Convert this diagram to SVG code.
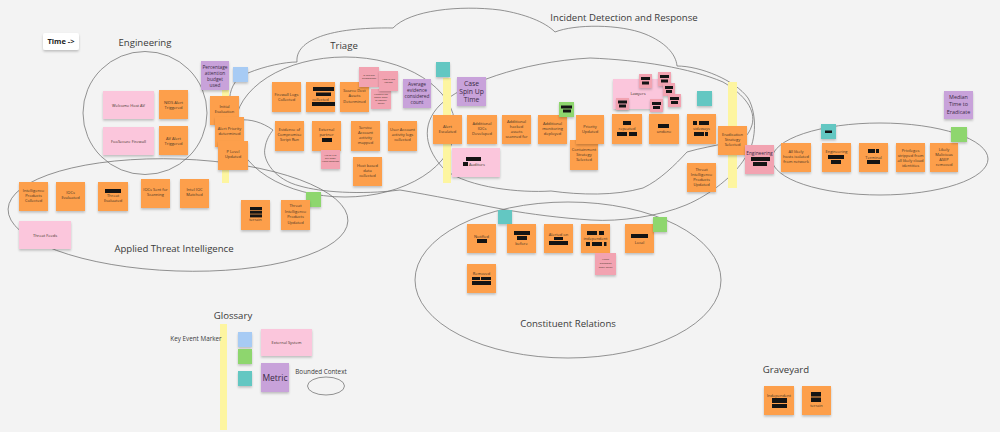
<svg xmlns="http://www.w3.org/2000/svg" width="1000" height="432" viewBox="0 0 1000 432">
<defs>
<filter id="sh" x="-20%" y="-20%" width="140%" height="150%"><feDropShadow dx="0" dy="1.6" stdDeviation="1" flood-color="#000" flood-opacity="0.22"/></filter>
<style>
.o{fill:#fd9f4c;filter:url(#sh)}
.pk{fill:#fbc6dc;filter:url(#sh)}
.pu{fill:#c8a2da;filter:url(#sh)}
.rd{fill:#f2a3b1;filter:url(#sh)}
.bl{fill:#a7cbf4;filter:url(#sh)}
.gr{fill:#8ed66e;filter:url(#sh)}
.tl{fill:#63c7c2;filter:url(#sh)}
.wh{fill:#ffffff;filter:url(#sh)}
.yb{fill:#fdf5a0}
.b{fill:#141414}
.t{font-family:"Open Sans","Liberation Sans",sans-serif;font-size:4px;fill:#3d3326;text-anchor:middle}
.ts{font-family:"Open Sans","Liberation Sans",sans-serif;font-size:2.5px;fill:#3d3326;text-anchor:middle}
.tp{font-family:"Open Sans","Liberation Sans",sans-serif;font-size:4.8px;fill:#3a2a45;text-anchor:middle}
.lb{font-family:"Open Sans","Liberation Sans",sans-serif;font-size:9.6px;fill:#3a3a3a;text-anchor:middle}
.lk{font-family:"Open Sans","Liberation Sans",sans-serif;font-size:6.3px;fill:#3a3a3a;text-anchor:middle}
.ln{fill:none;stroke:#707070;stroke-width:0.75}
</style>
</defs>
<rect x="0" y="0" width="1000" height="432" fill="#f3f3f3"/>

<g id="connectors">
<ellipse class="ln" cx="145" cy="113" rx="62" ry="61.5"/>
<ellipse class="ln" cx="178" cy="215" rx="170" ry="56" transform="rotate(2 178 215)"/>
<ellipse class="ln" cx="345" cy="127" rx="110" ry="70"/>
<path class="ln" d="M297,62 C295,40 330,27 393,28 C410,10 460,5 500,10 C525,14 545,22 555,32 C575,24 620,24 645,34 C665,42 676,54 677,66 C700,66 735,80 748,98 C758,115 756,145 745,158 C735,175 710,195 686,205 C660,216 620,222 591,220 C560,218 530,214 507,210 C470,203 430,195 400,190 C360,195 320,192 300,186 C275,180 262,160 265,148 C266,140 270,134 273,130 C262,122 250,119 240,120 C225,115 225,80 248,73 C265,66 285,62 297,62 Z"/>
<path class="ln" d="M551,191 C520,193 470,188 445,170 C425,150 420,125 440,105 C460,85 520,62 590,58 C640,60 690,68 723,82 C745,95 756,110 752,125 C748,138 740,142 730,142 C715,146 700,148 687,152 C675,165 660,180 643,188 C615,196 580,195 551,191 Z"/>
<ellipse class="ln" cx="880" cy="159" rx="108" ry="36"/>
<ellipse class="ln" cx="568" cy="280" rx="153" ry="78"/>
<ellipse class="ln" cx="326" cy="386" rx="18.5" ry="9"/>
</g>

<g id="markers">
<rect class="yb" x="222" y="88" width="7" height="95"/>
<rect class="yb" x="443" y="78" width="8" height="105"/>
<rect class="yb" x="728" y="82" width="9" height="106"/>
<rect class="yb" x="220" y="324" width="7" height="106"/>
</g>

<g id="labels">
<text class="lb" x="145" y="46">Engineering</text>
<text class="lb" x="344" y="49">Triage</text>
<text class="lb" x="624" y="21">Incident Detection and Response</text>
<text class="lb" x="174" y="252">Applied Threat Intelligence</text>
<text class="lb" x="568" y="327">Constituent Relations</text>
<text class="lb" x="233" y="319">Glossary</text>
<text class="lb" x="786" y="373">Graveyard</text>
<text class="lk" x="196" y="341">Key Event Marker</text>
<text class="lk" x="321" y="374">Bounded Context</text>
</g>

<g id="time"><rect class="wh" x="43" y="33" width="36" height="17" rx="2"/><text x="61" y="44" font-family="'Open Sans','Liberation Sans',sans-serif" font-size="7.5" font-weight="bold" fill="#222" text-anchor="middle">Time -&gt;</text></g>

<!-- Engineering -->
<g id="welcome-host-av"><rect class="pk" x="103" y="91" width="51" height="28"/><text class="t" x="128.5" y="106.5">Welcome Host AV</text></g>
<g id="foosecure-firewall"><rect class="pk" x="103" y="127" width="51" height="28"/><text class="t" x="128.5" y="142.5">FooSecure Firewall</text></g>
<g id="nids-alert"><rect class="o" x="159" y="90" width="29" height="29"/><text class="t"><tspan x="173.5" y="103.5">NIDS Alert</tspan><tspan x="173.5" y="108.7">Triggered</tspan></text></g>
<g id="av-alert"><rect class="o" x="159" y="126" width="29" height="29"/><text class="t"><tspan x="173.5" y="139.5">AV Alert</tspan><tspan x="173.5" y="144.7">Triggered</tspan></text></g>

<!-- Left metrics / triage start -->
<g id="pct-attention"><rect class="pu" x="201" y="61" width="28" height="29"/><text class="tp"><tspan x="215" y="68.5">Percentage</tspan><tspan x="215" y="74.5">attention</tspan><tspan x="215" y="80.5">budget</tspan><tspan x="215" y="86.5">used</tspan></text></g>
<g id="blue-note"><rect class="bl" x="233" y="67" width="15" height="15"/></g>
<g id="initial-eval"><rect class="o" x="210" y="96" width="29" height="29"/><text class="t"><tspan x="224.5" y="108">Initial</tspan><tspan x="224.5" y="113.2">Evaluation</tspan></text></g>
<g id="alert-priority"><rect class="o" x="215" y="117" width="29" height="30"/><text class="t"><tspan x="229.5" y="129.5">Alert Priority</tspan><tspan x="229.5" y="134.7">determined</tspan></text></g>
<g id="p-level"><rect class="o" x="218" y="141" width="30" height="29"/><text class="t"><tspan x="233" y="153">P Level</tspan><tspan x="233" y="158.2">Updated</tspan></text></g>

<!-- Triage -->
<g id="firewall-logs"><rect class="o" x="272" y="82" width="29" height="30"/><text class="t"><tspan x="286.5" y="96">Firewall Logs</tspan><tspan x="286.5" y="101.2">Collected</tspan></text></g>
<g id="redacted-collected"><rect class="o" x="306" y="82" width="29" height="30"/><rect class="b" x="313" y="87" width="21" height="4"/><rect class="b" x="316" y="92.5" width="15" height="3.5"/><text class="t" x="320.5" y="100.5">collected</text><rect class="b" x="312" y="102" width="23" height="4"/></g>
<g id="source-dest"><rect class="o" x="340" y="82" width="29" height="30"/><text class="t"><tspan x="354.5" y="92">Source Dest</tspan><tspan x="354.5" y="97.3">Assets</tspan><tspan x="354.5" y="102.6">Determined</tspan></text></g>
<g id="q-automated"><rect class="rd" x="359" y="67" width="20" height="20"/><text class="ts"><tspan x="369" y="76">Is this sub</tspan><tspan x="369" y="79">automated?</tspan></text></g>
<g id="q-where"><rect class="rd" x="371" y="89" width="20" height="20"/><text class="ts"><tspan x="381" y="95">Where's the</tspan><tspan x="381" y="98">single point</tspan><tspan x="381" y="101">of contact</tspan><tspan x="381" y="104">here?</tspan></text></g>
<g id="q-tested"><rect class="rd" x="379" y="71" width="19" height="20"/><text class="ts"><tspan x="388.5" y="80">How is this</tspan><tspan x="388.5" y="83">tested?</tspan></text></g>
<g id="avg-evidence"><rect class="pu" x="403" y="79" width="28" height="29"/><text class="tp"><tspan x="417" y="86">Average</tspan><tspan x="417" y="92">evidence</tspan><tspan x="417" y="98">considered</tspan><tspan x="417" y="104">count</tspan></text></g>
<g id="evidence-compromise"><rect class="o" x="275" y="121" width="29" height="30"/><text class="t"><tspan x="289.5" y="131">Evidence of</tspan><tspan x="289.5" y="136.2">Compromise</tspan><tspan x="289.5" y="141.4">Script Run</tspan></text></g>
<g id="external-partner"><rect class="o" x="312" y="121" width="29" height="30"/><text class="t"><tspan x="326.5" y="131">External</tspan><tspan x="326.5" y="136.2">partner</tspan></text><rect class="b" x="322" y="138" width="10" height="4"/></g>
<g id="q-asset-types"><rect class="rd" x="321" y="150" width="19" height="19"/><text class="ts"><tspan x="330.5" y="155.5">Are all 5 of</tspan><tspan x="330.5" y="158.7">our asset</tspan><tspan x="330.5" y="161.9">types covered?</tspan></text></g>
<g id="service-account"><rect class="o" x="351" y="121" width="29" height="30"/><text class="t"><tspan x="365.5" y="128.5">Service</tspan><tspan x="365.5" y="133.7">Account</tspan><tspan x="365.5" y="138.9">activity</tspan><tspan x="365.5" y="144.1">mapped</tspan></text></g>
<g id="user-account"><rect class="o" x="388" y="121" width="29" height="30"/><text class="t"><tspan x="402.5" y="131">User Account</tspan><tspan x="402.5" y="136.2">activity logs</tspan><tspan x="402.5" y="141.4">collected</tspan></text></g>
<g id="host-based"><rect class="o" x="353" y="157" width="29" height="29"/><text class="t"><tspan x="367.5" y="167">Host based</tspan><tspan x="367.5" y="172.2">data</tspan><tspan x="367.5" y="177.4">collected</tspan></text></g>

<!-- Applied Threat Intelligence -->
<g id="intel-products-collected"><rect class="o" x="19" y="182" width="29" height="29"/><text class="t"><tspan x="33.5" y="191.5">Intelligence</tspan><tspan x="33.5" y="196.7">Products</tspan><tspan x="33.5" y="201.9">Collected</tspan></text></g>
<g id="iocs-evaluated"><rect class="o" x="56" y="182" width="29" height="29"/><text class="t"><tspan x="70.5" y="194">IOCs</tspan><tspan x="70.5" y="199.2">Evaluated</tspan></text></g>
<g id="threat-evaluated"><rect class="o" x="98" y="182" width="30" height="29"/><rect class="b" x="105" y="189" width="16" height="4"/><text class="t"><tspan x="113" y="197">Threat</tspan><tspan x="113" y="202.2">Evaluated</tspan></text></g>
<g id="iocs-sent"><rect class="o" x="141" y="179" width="29" height="29"/><text class="t"><tspan x="155.5" y="191">IOCs Sent for</tspan><tspan x="155.5" y="196.2">Scanning</tspan></text></g>
<g id="intel-ioc-matched"><rect class="o" x="180" y="179" width="29" height="29"/><text class="t"><tspan x="194.5" y="191">Intel IOC</tspan><tspan x="194.5" y="196.2">Matched</tspan></text></g>
<g id="terrain-ati"><rect class="o" x="241" y="200" width="29" height="30"/><rect class="b" x="250" y="207" width="12" height="3"/><rect class="b" x="250" y="210.7" width="12" height="3"/><rect class="b" x="250" y="214.4" width="12" height="3"/><text class="t" x="255.5" y="221">terrain</text></g>
<g id="green-ati"><rect class="gr" x="306" y="192" width="15" height="15"/></g>
<g id="ti-products-updated-1"><rect class="o" x="281" y="200" width="29" height="30"/><text class="t"><tspan x="295.5" y="207">Threat</tspan><tspan x="295.5" y="212.5">Intelligence</tspan><tspan x="295.5" y="218">Products</tspan><tspan x="295.5" y="223.5">Updated</tspan></text></g>
<g id="threat-feeds"><rect class="pk" x="19" y="221" width="52" height="28"/><text class="t" x="45" y="236.5">Threat Feeds</text></g>

<!-- Incident Detection and Response -->
<g id="teal-idr"><rect class="tl" x="436" y="62" width="14" height="15"/></g>
<g id="case-spin-up"><rect class="pu" x="457" y="77" width="29" height="29"/><text class="tp" style="font-size:6.8px"><tspan x="471.5" y="85.5">Case</tspan><tspan x="471.5" y="93.5">Spin Up</tspan><tspan x="471.5" y="101.5">Time</tspan></text></g>
<g id="alert-escalated"><rect class="o" x="433" y="115" width="29" height="29"/><text class="t"><tspan x="447.5" y="127.5">Alert</tspan><tspan x="447.5" y="132.7">Escalated</tspan></text></g>
<g id="additional-iocs"><rect class="o" x="467" y="115" width="30" height="29"/><text class="t"><tspan x="482" y="125">Additional</tspan><tspan x="482" y="130.2">IOCs</tspan><tspan x="482" y="135.4">Developed</tspan></text></g>
<g id="additional-hacked"><rect class="o" x="502" y="115" width="29" height="29"/><text class="t"><tspan x="516.5" y="122.5">Additional</tspan><tspan x="516.5" y="127.7">hacked</tspan><tspan x="516.5" y="132.9">assets</tspan><tspan x="516.5" y="138.1">scanned for</tspan></text></g>
<g id="additional-monitoring"><rect class="o" x="538" y="115" width="29" height="29"/><text class="t"><tspan x="552.5" y="125">Additional</tspan><tspan x="552.5" y="130.2">monitoring</tspan><tspan x="552.5" y="135.4">deployed</tspan></text></g>
<g id="green-idr"><rect class="gr" x="559" y="102" width="15" height="15"/><rect class="b" x="561" y="105.5" width="11" height="3"/><rect class="b" x="563" y="109.5" width="8" height="3"/></g>
<g id="containment"><rect class="o" x="570" y="140" width="28" height="30"/><text class="t"><tspan x="584" y="151">Containment</tspan><tspan x="584" y="156.2">Strategy</tspan><tspan x="584" y="161.4">Selected</tspan></text></g>
<g id="priority-updated"><rect class="o" x="576" y="115" width="28" height="29"/><text class="t"><tspan x="590" y="127.5">Priority</tspan><tspan x="590" y="132.7">Updated</tspan></text></g>
<g id="auditors"><rect class="pk" x="452" y="148" width="48" height="29"/><rect class="b" x="466" y="157" width="15" height="4"/><rect class="b" x="463" y="162" width="5" height="4"/><text class="t" x="477" y="165.5">Auditors</text></g>
<g id="lawyers"><rect class="pk" x="613" y="79" width="50" height="30"/><text class="t" x="638" y="95">Lawyers</text></g>
<g id="lawyer-notes">
<rect class="rd" x="639" y="74" width="13" height="14"/><rect class="b" x="641" y="77" width="9" height="3"/><rect class="b" x="642" y="81.5" width="7" height="3"/>
<rect class="rd" x="658" y="72" width="13" height="14"/><rect class="b" x="660" y="75" width="9" height="3"/><rect class="b" x="661" y="79.5" width="7" height="3"/>
<rect class="rd" x="663" y="83" width="12" height="13"/><rect class="b" x="665" y="86" width="8" height="3"/><rect class="b" x="666" y="90" width="6" height="3"/>
<rect class="rd" x="668" y="94" width="13" height="13"/><rect class="b" x="670" y="97" width="9" height="3"/><rect class="b" x="671" y="101" width="7" height="3"/>
<rect class="rd" x="616" y="98" width="13" height="12"/><rect class="b" x="618" y="100.5" width="9" height="3"/><rect class="b" x="619" y="104.5" width="7" height="3"/>
<rect class="rd" x="650" y="99" width="13" height="13"/><rect class="b" x="652" y="102" width="9" height="3"/><rect class="b" x="653" y="106" width="7" height="3"/>
</g>
<g id="repeated"><rect class="o" x="612" y="114" width="30" height="30"/><rect class="b" x="623" y="121" width="8" height="4"/><text class="t" x="627" y="130">repeated</text><rect class="b" x="617" y="132" width="10" height="4"/><rect class="b" x="629" y="132" width="8" height="4"/></g>
<g id="undone"><rect class="o" x="649" y="114" width="30" height="30"/><rect class="b" x="658" y="124" width="11" height="4"/><text class="t" x="664" y="132.5">undone</text></g>
<g id="teal-idr-2"><rect class="tl" x="697" y="91" width="15" height="15"/></g>
<g id="sideways"><rect class="o" x="687" y="114" width="29" height="30"/><rect class="b" x="693" y="121" width="4" height="4"/><rect class="b" x="699" y="121" width="10" height="4"/><text class="t" x="701.5" y="129.5">sideways</text><rect class="b" x="694" y="132" width="10" height="4"/><rect class="b" x="705" y="132" width="3" height="4"/></g>
<g id="eradication-strategy"><rect class="o" x="718" y="126" width="29" height="29"/><text class="t"><tspan x="732.5" y="135.5">Eradication</tspan><tspan x="732.5" y="140.7">Strategy</tspan><tspan x="732.5" y="145.9">Selected</tspan></text></g>
<g id="ti-products-updated-2"><rect class="o" x="687" y="163" width="29" height="29"/><text class="t"><tspan x="701.5" y="170.5">Threat</tspan><tspan x="701.5" y="175.8">Intelligence</tspan><tspan x="701.5" y="181.1">Products</tspan><tspan x="701.5" y="186.4">Updated</tspan></text></g>
<g id="engineering-ext"><rect class="rd" x="745" y="145" width="29" height="29"/><text class="tp" x="759.5" y="155">Engineering</text><rect class="b" x="751" y="157" width="19" height="4"/><rect class="b" x="753" y="162" width="14" height="4"/></g>

<!-- Eradication -->
<g id="teal-erad"><rect class="tl" x="821" y="124" width="15" height="15"/><rect class="b" x="825" y="130.5" width="7" height="2.5"/></g>
<g id="hosts-isolated"><rect class="o" x="781" y="143" width="30" height="29"/><text class="t"><tspan x="796" y="152.5">All likely</tspan><tspan x="796" y="157.9">hosts isolated</tspan><tspan x="796" y="163.3">from network</tspan></text></g>
<g id="engineering-erad"><rect class="o" x="822" y="143" width="29" height="29"/><text class="t" x="836.5" y="152.5">Engineering</text><rect class="b" x="828" y="155" width="16" height="4"/><rect class="b" x="831" y="160" width="10" height="4"/></g>
<g id="terminal"><rect class="o" x="859" y="143" width="29" height="29"/><rect class="b" x="868" y="149" width="7" height="4"/><rect class="b" x="876" y="149" width="3" height="4"/><text class="t" x="873.5" y="158.5">Terminal</text><rect class="b" x="867" y="160" width="13" height="4"/></g>
<g id="privileges"><rect class="o" x="896" y="143" width="29" height="29"/><text class="t"><tspan x="910.5" y="151.5">Privileges</tspan><tspan x="910.5" y="156.5">stripped from</tspan><tspan x="910.5" y="161.5">all likely cloud</tspan><tspan x="910.5" y="166.5">identities</tspan></text></g>
<g id="asep-removed"><rect class="o" x="930" y="143" width="28" height="29"/><text class="t"><tspan x="944" y="150.5">Likely</tspan><tspan x="944" y="155.7">Malicious</tspan><tspan x="944" y="160.9">ASEP</tspan><tspan x="944" y="166.1">removed</tspan></text></g>
<g id="green-erad"><rect class="gr" x="951" y="127" width="16" height="15"/></g>
<g id="median-eradicate"><rect class="pu" x="944" y="91" width="29" height="28"/><text class="tp" style="font-size:5.4px"><tspan x="958.5" y="99">Median</tspan><tspan x="958.5" y="106.3">Time to</tspan><tspan x="958.5" y="113.6">Eradicate</tspan></text></g>

<!-- Constituent Relations -->
<g id="teal-cr"><rect class="tl" x="498" y="210" width="14" height="14"/></g>
<g id="notified"><rect class="o" x="467" y="224" width="29" height="29"/><text class="t" x="481.5" y="237.5">Notified</text><rect class="b" x="477" y="239" width="10" height="4"/></g>
<g id="before"><rect class="o" x="507" y="224" width="29" height="29"/><rect class="b" x="514" y="231" width="16" height="4"/><rect class="b" x="517" y="236" width="10" height="4"/><text class="t" x="521.5" y="245">before</text></g>
<g id="alerted-on"><rect class="o" x="544" y="224" width="29" height="29"/><text class="t" x="558.5" y="235.5">Alerted on</text><rect class="b" x="554" y="237" width="9" height="3"/><rect class="b" x="549" y="241" width="19" height="4"/></g>
<g id="independent"><rect class="o" x="581" y="224" width="29" height="29"/><rect class="b" x="587" y="231" width="10" height="4"/><rect class="b" x="599" y="231" width="5" height="4"/><text class="t" x="595.5" y="240">independent</text><rect class="b" x="586" y="242" width="4" height="4"/><rect class="b" x="592" y="242" width="10" height="4"/><rect class="b" x="604" y="242" width="2.5" height="4"/></g>
<g id="q-standards"><rect class="rd" x="595" y="253" width="21" height="22"/><text class="ts"><tspan x="605.5" y="260">Which</tspan><tspan x="605.5" y="264">standards</tspan><tspan x="605.5" y="268">apply here?</tspan></text></g>
<g id="local"><rect class="o" x="625" y="224" width="29" height="29"/><rect class="b" x="631" y="234" width="17" height="4"/><text class="t" x="639.5" y="243.5">Local</text></g>
<g id="green-cr"><rect class="gr" x="653" y="217" width="14" height="15"/></g>
<g id="removed"><rect class="o" x="467" y="264" width="29" height="29"/><text class="t" x="481.5" y="274.5">Removed</text><rect class="b" x="472" y="277" width="8" height="3"/><rect class="b" x="481" y="277" width="10" height="3"/><rect class="b" x="472" y="281" width="19" height="4"/></g>

<!-- Glossary -->
<g id="gl-blue"><rect class="bl" x="238" y="332" width="14" height="15"/></g>
<g id="gl-green"><rect class="gr" x="238" y="349" width="14" height="15"/></g>
<g id="gl-teal"><rect class="tl" x="238" y="371" width="14" height="15"/></g>
<g id="gl-external"><rect class="pk" x="261" y="329" width="51" height="27"/><text class="t" x="286.5" y="343.5">External System</text></g>
<g id="gl-metric"><rect class="pu" x="261" y="363" width="28" height="29"/><text class="tp" style="font-size:8.5px" x="275" y="380.5">Metric</text></g>

<!-- Graveyard -->
<g id="gy-independent"><rect class="o" x="764" y="386" width="30" height="29"/><text class="t" x="779" y="396.5">Independent</text><rect class="b" x="772" y="398" width="15" height="5"/><rect class="b" x="772" y="404" width="15" height="4"/></g>
<g id="gy-terrain"><rect class="o" x="802" y="386" width="29" height="29"/><rect class="b" x="811" y="392" width="10" height="4.5"/><rect class="b" x="811" y="397.5" width="10" height="4.5"/><text class="t" x="816.5" y="406.5">terrain</text></g>
</svg>
